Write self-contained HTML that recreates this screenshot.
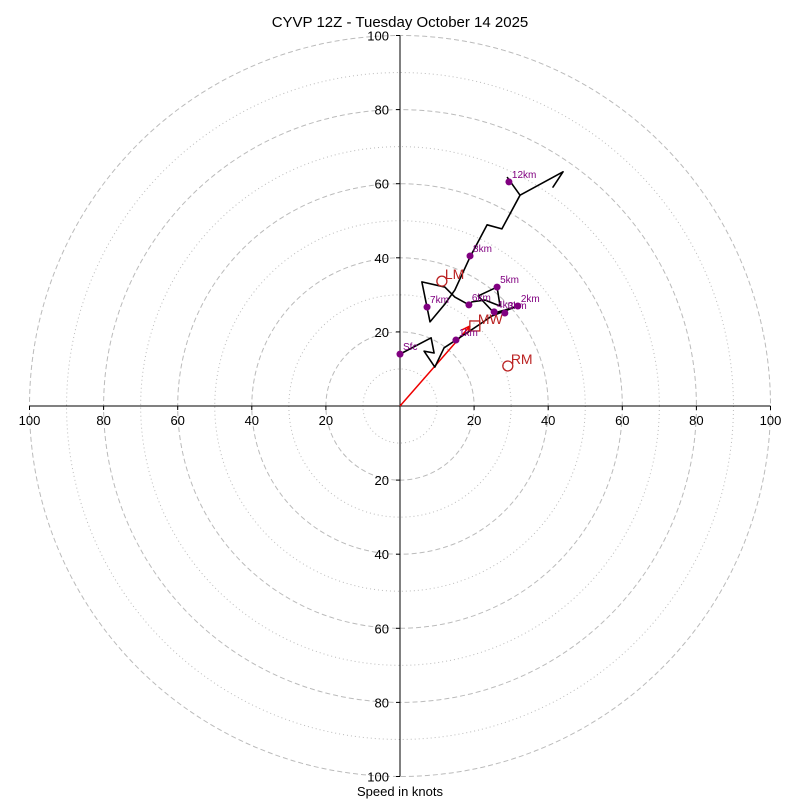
<!DOCTYPE html>
<html><head><meta charset="utf-8">
<style>
body{margin:0;background:#fff;}
svg{display:block;font-family:"Liberation Sans","DejaVu Sans",sans-serif;}
</style></head>
<body>
<svg id="chart" width="800" height="800" viewBox="0 0 800 800">
<rect width="800" height="800" fill="#fff"/>
<text x="400" y="27" text-anchor="middle" font-size="15">CYVP 12Z - Tuesday October 14 2025</text>
<text x="400" y="796" text-anchor="middle" font-size="13">Speed in knots</text>
<g id="rings"></g>
<g id="axes"></g>
<g id="series"></g>
</svg>
<script>
const ringMajor = [20, 40, 60, 80, 100];
const ringMinor = [10, 30, 50, 70, 90];
const tickLabels = [20, 40, 60, 80, 100];
const traceU = [0, 8.4, 9.2, 6.5, 9.4, 11.9, 15.1, 19.2, 21.6, 24.8, 31.8, 28.3, 25.4, 21.1, 26.2, 27.0, 22.9, 19.4, 18.6, 14.8, 12.1, 5.9, 8.1, 12.1, 14.8, 18.9, 23.5, 27.5, 32.4, 44.0, 41.3, 44.0, 32.4, 28.9];
const traceV = [14.0, 18.4, 14.3, 14.8, 10.5, 15.7, 17.8, 20.5, 22.1, 24.3, 27.0, 25.9, 25.1, 29.7, 32.1, 27.0, 28.6, 28.1, 27.3, 29.4, 32.1, 33.5, 22.7, 27.5, 31.3, 40.2, 48.9, 47.8, 56.9, 63.2, 59.1, 63.2, 56.9, 61.8];
const markLabels = ["Sfc", "1km", "2km", "3km", "4km", "5km", "6km", "7km", "8km", "12km"];
const markU = [0, 15.1, 31.8, 28.3, 25.4, 26.2, 18.6, 7.3, 18.9, 29.4];
const markV = [14.0, 17.8, 27.0, 25.1, 25.4, 32.1, 27.3, 26.7, 40.5, 60.5];
const motionLabels = ["LM", "RM", "MW"];
const motionU = [11.3, 29.1, 20.2];
const motionV = [33.7, 10.8, 21.6];
const shearU = 18.9, shearV = 21.6;

const cx = 400, cy = 406, k = 3.705;
const X = u => cx + u * k;
const Y = v => cy - v * k;
const NS = "http://www.w3.org/2000/svg";
function mk(tag, attrs, parent, text) {
  const e = document.createElementNS(NS, tag);
  for (const a in attrs) e.setAttribute(a, attrs[a]);
  if (text !== undefined) e.textContent = text;
  parent.appendChild(e);
  return e;
}
const rings = document.getElementById('rings');
ringMinor.forEach(r => {
  const c = mk('circle', {cx: cx, cy: cy, r: r * k, fill: 'none', stroke: '#bbb', 'stroke-width': 1, 'stroke-dasharray': '1 3'}, rings);
  
  
});
ringMajor.forEach(r => {
  const c = mk('circle', {cx: cx, cy: cy, r: r * k, fill: 'none', stroke: '#bbb', 'stroke-width': 1, 'stroke-dasharray': '5 3'}, rings);
  
  
});
const axes = document.getElementById('axes');
const h = mk('line', {x1: X(-100), y1: cy, x2: X(100), y2: cy, stroke: '#000', 'stroke-width': 1}, axes);


const vline = mk('line', {x1: cx, y1: Y(100), x2: cx, y2: Y(-100), stroke: '#000', 'stroke-width': 1}, axes);


tickLabels.forEach(t => {
  [-1, 1].forEach(s => {
    const tx = mk('text', {x: X(s * t), y: cy + 19, 'text-anchor': 'middle', 'font-size': 13}, axes, String(t));
    
    
    const tm = mk('line', {x1: X(s * t), y1: cy, x2: X(s * t), y2: cy + 4, stroke: '#000'}, axes);
    
    
    const ty = mk('text', {x: cx - 11, y: Y(s * t) + 5, 'text-anchor': 'end', 'font-size': 13}, axes, String(t));
    
    
    const tn = mk('line', {x1: cx - 4, y1: Y(s * t), x2: cx, y2: Y(s * t), stroke: '#000'}, axes);
    
    
  });
});
const series = document.getElementById('series');
const sh = mk('line', {x1: X(0), y1: Y(0), x2: X(shearU), y2: Y(shearV), stroke: '#e00', 'stroke-width': 1.5}, series);


const ang = Math.atan2(Y(shearV) - Y(0), X(shearU) - X(0));
const ax = X(shearU), ay = Y(shearV);
const ah = mk('path', {d: `M${ax},${ay} L${ax - 9 * Math.cos(ang - 0.4)},${ay - 9 * Math.sin(ang - 0.4)} M${ax},${ay} L${ax - 9 * Math.cos(ang + 0.4)},${ay - 9 * Math.sin(ang + 0.4)}`, stroke: '#e00', 'stroke-width': 1.5, fill: 'none'}, series);


const tr = mk('polyline', {points: traceU.map((u, i) => X(u) + ',' + Y(traceV[i])).join(' '), fill: 'none', stroke: '#000', 'stroke-width': 1.6, 'stroke-linejoin': 'round'}, series);


motionLabels.forEach((l, i) => {
  const px = X(motionU[i]), py = Y(motionV[i]);
  let m;
  if (l === 'MW') m = mk('rect', {x: px - 5, y: py - 5, width: 10, height: 10, fill: 'none', stroke: '#b22', 'stroke-width': 1.3}, series);
  else m = mk('circle', {cx: px, cy: py, r: 5, fill: 'none', stroke: '#b22', 'stroke-width': 1.3}, series);
  
  
  const t = mk('text', {x: px + 3, y: py - 2, 'font-size': 14, fill: '#b22'}, series, l);
  
  
});
markLabels.forEach((l, i) => {
  const px = X(markU[i]), py = Y(markV[i]);
  const c = mk('circle', {cx: px, cy: py, r: 3.5, fill: 'purple'}, series);
  
  
  const t = mk('text', {x: px + 3, y: py - 4, 'font-size': 10, fill: 'purple'}, series, l);
  
  
});
</script>
</body></html>
